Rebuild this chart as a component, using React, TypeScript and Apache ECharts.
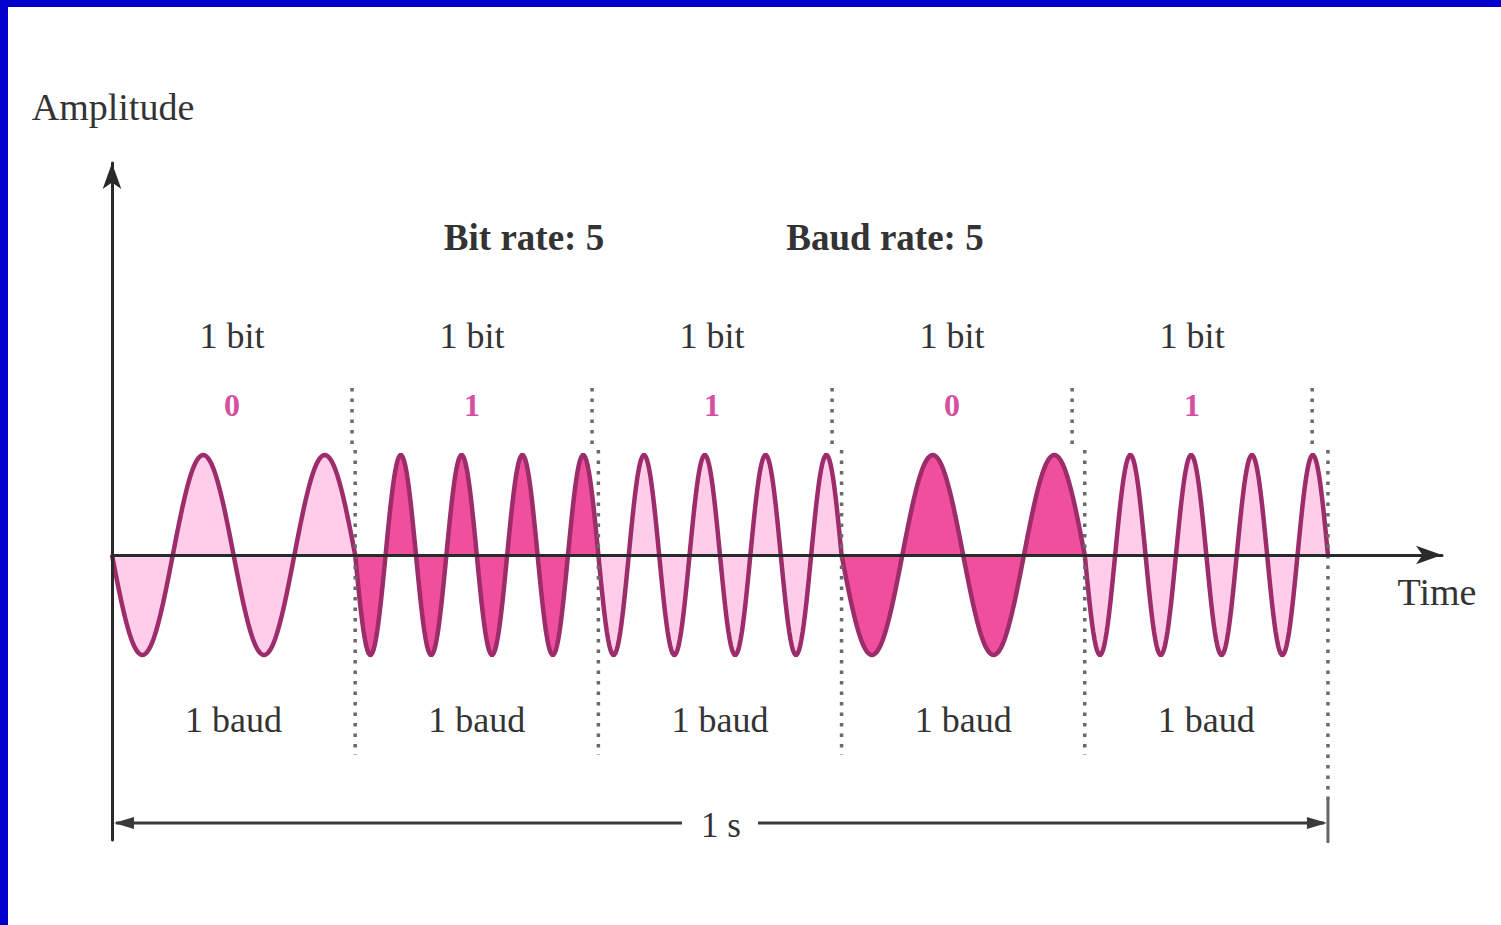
import React, { useEffect, useRef } from "react";
import * as echarts from "echarts";

// ---- data ----
const bits = [0, 1, 1, 0, 1];
const cyclesPerBit = [2, 4]; // carrier cycles in one bit for bit 0 / bit 1
const bitDuration = 0.2; // seconds per bit (5 bits in 1 s)
const bitTopLabels = ["1 bit", "1 bit", "1 bit", "1 bit", "1 bit"];
const baudLabels = ["1 baud", "1 baud", "1 baud", "1 baud", "1 baud"];
const bitRate = 5;
const baudRate = 5;
const totalTimeLabel = "1 s";
const totalTime = 1;

// ---- layout / style constants ----
const FONT = "Liberation Serif, DejaVu Serif, serif";
const TEXT = "#333333";
const STROKE = "#9c2d6a";
const FILL_DARK = "#ef4f9d";
const FILL_LIGHT = "#ffcdea";
const BIT_COLOR = "#d5519f";
const UPPER_SCALE = 0.987; // upper half of the figure is slightly narrower

export default function App() {
  const ref = useRef<HTMLDivElement>(null);

  useEffect(() => {
    if (!ref.current) return;
    const chart = echarts.init(ref.current, null, { renderer: "svg" });

    const waveSeries: any = {
      type: "custom",
      coordinateSystem: "cartesian2d",
      z: 2,
      silent: true,
      data: bits.map((b, i) => [i, b]),
      renderItem: (params: any, api: any) => {
        const i = api.value(0);
        const b = api.value(1);
        const cycles = cyclesPerBit[b];
        const t0 = i * bitDuration;
        const N = 200;
        const pts: number[][] = [];
        for (let k = 0; k <= N; k++) {
          const f = k / N;
          pts.push(api.coord([t0 + f * bitDuration, -Math.sin(2 * Math.PI * cycles * f)]));
        }
        return {
          type: "group",
          children: [
            {
              type: "polygon",
              shape: { points: pts },
              style: { fill: i % 2 === 1 ? FILL_DARK : FILL_LIGHT, stroke: null },
            },
            {
              type: "polyline",
              shape: { points: pts },
              style: { stroke: STROKE, lineWidth: 4.5, fill: null },
            },
          ],
        };
      },
    };

    const dividerSeries: any = {
      type: "custom",
      coordinateSystem: "cartesian2d",
      z: 3,
      silent: true,
      data: bits.map((_, i) => [(i + 1) * bitDuration]),
      renderItem: (params: any, api: any) => {
        const t = api.value(0);
        const last = params.dataIndex === bits.length - 1;
        const up0 = api.coord([t * UPPER_SCALE, 1.67]);
        const up1 = api.coord([t * UPPER_SCALE, 1.05]);
        const lo0 = api.coord([t, 1.05]);
        const lo1 = api.coord([t, last ? -2.45 : -2.0]);
        const dash = { stroke: "#6a6a6a", lineWidth: 3.5, lineDash: [3.5, 7], fill: null };
        return {
          type: "group",
          children: [
            { type: "line", shape: { x1: up0[0], y1: up0[1], x2: up1[0], y2: up1[1] }, style: dash },
            { type: "line", shape: { x1: lo0[0], y1: lo0[1], x2: lo1[0], y2: lo1[1] }, style: dash },
          ],
        };
      },
    };

    const labelSeries: any = {
      type: "custom",
      coordinateSystem: "cartesian2d",
      z: 4,
      silent: true,
      data: bits.map((b, i) => [i, b]),
      renderItem: (params: any, api: any) => {
        const i = api.value(0);
        const b = api.value(1);
        const upX = (i + 0.5) * bitDuration * UPPER_SCALE;
        const loX = (i + 0.5) * bitDuration;
        const p1 = api.coord([upX, 2.19]);
        const p2 = api.coord([upX, 1.5]);
        const p3 = api.coord([loX, -1.65]);
        const base = { fontFamily: FONT, align: "center", verticalAlign: "middle" };
        return {
          type: "group",
          children: [
            { type: "text", x: p1[0], y: p1[1], style: { ...base, text: bitTopLabels[i], fontSize: 36, fill: TEXT } },
            { type: "text", x: p2[0], y: p2[1], style: { ...base, text: String(b), fontSize: 32, fontWeight: "bold", fill: BIT_COLOR } },
            { type: "text", x: p3[0], y: p3[1], style: { ...base, text: baudLabels[i], fontSize: 36, fill: TEXT } },
          ],
        };
      },
    };

    const spanSeries: any = {
      type: "custom",
      coordinateSystem: "cartesian2d",
      z: 4,
      silent: true,
      data: [[0, totalTime]],
      renderItem: (params: any, api: any) => {
        const a = api.coord([api.value(0), -2.68]);
        const b = api.coord([api.value(1), -2.68]);
        const mid = (a[0] + b[0]) / 2;
        const gap = 38;
        const col = "#3a3a3a";
        const ls = { stroke: col, lineWidth: 3, fill: null };
        const tickTop = api.coord([api.value(1), -2.45]);
        const tickBot = api.coord([api.value(1), -2.88]);
        return {
          type: "group",
          children: [
            { type: "line", shape: { x1: a[0] + 4, y1: a[1], x2: mid - gap, y2: a[1] }, style: ls },
            { type: "line", shape: { x1: mid + gap, y1: a[1], x2: b[0] - 4, y2: b[1] }, style: ls },
            { type: "polygon", shape: { points: [[a[0] + 2, a[1]], [a[0] + 22, a[1] - 6], [a[0] + 22, a[1] + 6]] }, style: { fill: col } },
            { type: "polygon", shape: { points: [[b[0] - 1, b[1]], [b[0] - 21, b[1] - 6], [b[0] - 21, b[1] + 6]] }, style: { fill: col } },
            { type: "line", shape: { x1: tickTop[0], y1: tickTop[1], x2: tickBot[0], y2: tickBot[1] }, style: { stroke: "#666", lineWidth: 3 } },
            {
              type: "text", x: mid + 1, y: a[1] + 2,
              style: { text: totalTimeLabel, fontFamily: FONT, fontSize: 35, fill: TEXT, align: "center", verticalAlign: "middle" },
            },
          ],
        };
      },
    };

    const option: any = {
      animation: false,
      backgroundColor: "#ffffff",
      grid: { left: 112, right: 59, top: 163, bottom: 85 },
      xAxis: {
        type: "value",
        min: 0,
        max: 1.0938,
        z: 10,
        axisLine: {
          show: true,
          onZero: true,
          symbol: ["none", "arrow"],
          symbolSize: [14, 26],
          lineStyle: { color: "#2a2a2a", width: 3 },
        },
        axisTick: { show: false },
        axisLabel: { show: false },
        splitLine: { show: false },
      },
      yAxis: {
        type: "value",
        min: -2.85,
        max: 3.92,
        z: 10,
        axisLine: {
          show: true,
          symbol: ["none", "arrow"],
          symbolSize: [14, 26],
          lineStyle: { color: "#2a2a2a", width: 3 },
        },
        axisTick: { show: false },
        axisLabel: { show: false },
        splitLine: { show: false },
      },
      graphic: [
        { type: "rect", left: 0, top: 0, shape: { width: 8, height: 925 }, style: { fill: "#0000cc" } },
        { type: "rect", left: 0, top: 0, shape: { width: 1501, height: 7 }, style: { fill: "#0000cc" } },
        {
          type: "text", x: 113, y: 107,
          style: { text: "Amplitude", fontFamily: FONT, fontSize: 38, fill: TEXT, align: "center", verticalAlign: "middle" },
        },
        {
          type: "text", x: 1437, y: 592,
          style: { text: "Time", fontFamily: FONT, fontSize: 38, fill: TEXT, align: "center", verticalAlign: "middle" },
        },
        {
          type: "text", x: 524, y: 237,
          style: { text: `Bit rate: ${bitRate}`, fontFamily: FONT, fontSize: 37, fontWeight: "bold", fill: TEXT, align: "center", verticalAlign: "middle" },
        },
        {
          type: "text", x: 885, y: 237,
          style: { text: `Baud rate: ${baudRate}`, fontFamily: FONT, fontSize: 37, fontWeight: "bold", fill: TEXT, align: "center", verticalAlign: "middle" },
        },
      ],
      series: [waveSeries, dividerSeries, labelSeries, spanSeries],
    };

    chart.setOption(option);
    return () => chart.dispose();
  }, []);

  return (
    <div
      ref={ref}
      style={{ position: "absolute", left: 0, top: 0, width: 1501, height: 925, background: "#fff" }}
    />
  );
}
